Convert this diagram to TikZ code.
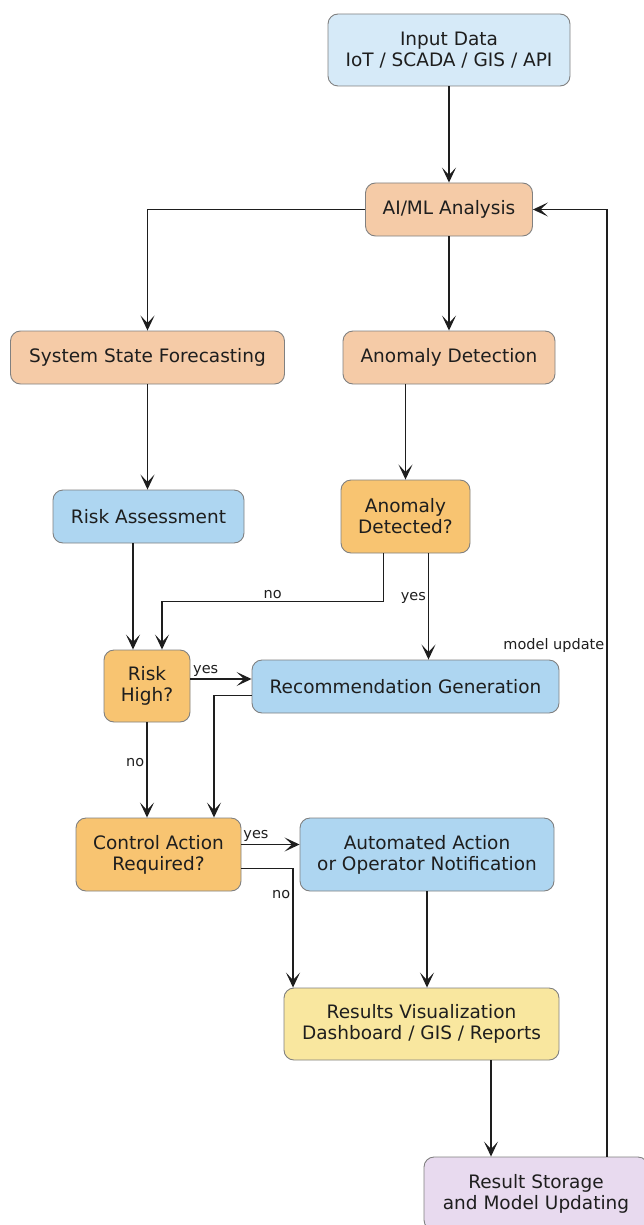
\documentclass[tikz,border=0pt]{standalone}
\usepackage{fontspec}
\setmainfont{DejaVu Sans}
\usetikzlibrary{arrows.meta,calc}

\definecolor{boxline}{RGB}{128,128,128}
\definecolor{txt}{RGB}{30,30,30}
\definecolor{inblue}{RGB}{214,234,248}
\definecolor{peach}{RGB}{245,203,167}
\definecolor{skyblue}{RGB}{174,214,241}
\definecolor{amber}{RGB}{248,196,113}
\definecolor{sand}{RGB}{249,231,159}
\definecolor{lilac}{RGB}{232,218,239}

\begin{document}
\begin{tikzpicture}[x=1pt,y=1pt,yscale=-1,xscale=1,
		box/.style={draw=boxline, line width=0.9pt, rounded corners=10pt, align=center, inner sep=0pt, text=txt, font=\fontsize{18.5}{21}\selectfont},
		sz/.style 2 args={minimum width=#1, minimum height=#2},
		flow/.style={draw=txt, line width=1.4pt, -{Stealth[length=15pt,width=14pt,inset=7.5pt]}},
		lbl/.style={text=txt, font=\fontsize{14.5}{16}\selectfont, inner sep=2pt}]
		% Set diagram frame to the full page
		\useasboundingbox (0,0) rectangle (643,1225);

		% Boxes: input and analysis
		\node[box, fill=inblue, sz={242}{72}] (inp) at (449,50) {Input Data\\IoT / SCADA / GIS / API};
		\node[box, fill=peach, sz={167}{53}] (aiml) at (449,209.5) {AI/ML Analysis};
		\node[box, fill=peach, sz={274}{53}] (ssf) at (147.5,357.5) {System State Forecasting};
		\node[box, fill=peach, sz={212}{53}] (anom) at (449,357.5) {Anomaly Detection};

		% Boxes: assessment and decisions
		\node[box, fill=skyblue, sz={191}{53}] (risk) at (148.5,516.5) {Risk Assessment};
		\node[box, fill=amber, sz={129}{73}] (adet) at (405.5,516.5) {Anomaly\\Detected?};
		\node[box, fill=amber, sz={86}{72}] (rhigh) at (147,686) {Risk\\High?};
		\node[box, fill=skyblue, sz={307}{53}] (rec) at (405.5,686.5) {Recommendation Generation};
		\node[box, fill=amber, sz={165}{73}] (ctrl) at (158.5,854.5) {Control Action\\Required?};
		\node[box, fill=skyblue, sz={254}{73}] (auto) at (427,854.5) {Automated Action\\or Operator Notification};

		% Boxes: output
		\node[box, fill=sand, sz={275}{72}] (res) at (421.5,1024) {Results Visualization\\Dashboard / GIS / Reports};
		\node[box, fill=lilac, sz={224}{73}] (store) at (536,1193.5) {Result Storage\\and Model Updating};

		% Side ports of the boxes
		\coordinate (rhighinl) at ($(rhigh.north)+(-14,0)$);
		\coordinate (rhighinr) at ($(rhigh.north)+(15,0)$);
		\coordinate (adetno) at ($(adet.south)+(-22,0)$);
		\coordinate (adetyes) at ($(adet.south)+(23,0)$);
		\coordinate (recin) at ($(rec.north)+(23,0)$);
		\coordinate (rhighyes) at ($(rhigh.east)+(0,-7)$);
		\coordinate (recout) at ($(rec.west)+(0,9)$);
		\coordinate (ctrlinr) at ($(ctrl.north)+(55.5,0)$);
		\coordinate (ctrlyes) at ($(ctrl.east)+(0,-10)$);
		\coordinate (ctrlno) at ($(ctrl.east)+(0,14)$);
		\coordinate (resinl) at ($(res.north)+(-128.5,0)$);
		\coordinate (resout) at ($(res.south)+(69.5,0)$);
		\coordinate (storeout) at ($(store.north)+(71,0)$);

		% Connectors from the top
		\draw[flow] (inp) -- (aiml);
		\draw[flow] (aiml.west) -| (ssf.north);
		\draw[flow] (aiml) -- (anom);
		\draw[flow] (ssf.south) -- (ssf.south |- risk.north);
		\draw[flow] (adet.north |- anom.south) -- (adet.north);

		% Connectors into the risk decision
		\draw[flow] (rhighinl |- risk.south) -- (rhighinl);
		\draw[flow] (adetno) -- ++(0,48) -| (rhighinr) node[lbl, above, pos=0.25] {no};
		\draw[flow] (adetyes) -- (recin) node[lbl, left, pos=0.42] {yes};

		% Connectors into the control decision
		\draw[flow] (rhighyes) -- (rhighyes -| rec.west) node[lbl, above, pos=0.25] {yes};
		\draw[flow] (recout) -| (ctrlinr);
		\draw[flow] (rhigh.south) -- (rhigh.south |- ctrl.north) node[lbl, left, pos=0.42] {no};
		\draw[flow] (ctrlyes) -- (ctrlyes -| auto.west) node[lbl, above, pos=0.25] {yes};
		\draw[flow] (ctrlno) -| (resinl) node[lbl, left, pos=0.61] {no};

		% Connectors to the output and the feedback loop
		\draw[flow] (auto.south) -- (auto.south |- res.north);
		\draw[flow] (resout) -- (resout |- store.north);
		\draw[flow] (storeout) |- (aiml.east) node[lbl, left, pos=0.27] {model update};
	\end{tikzpicture}
\end{document}
